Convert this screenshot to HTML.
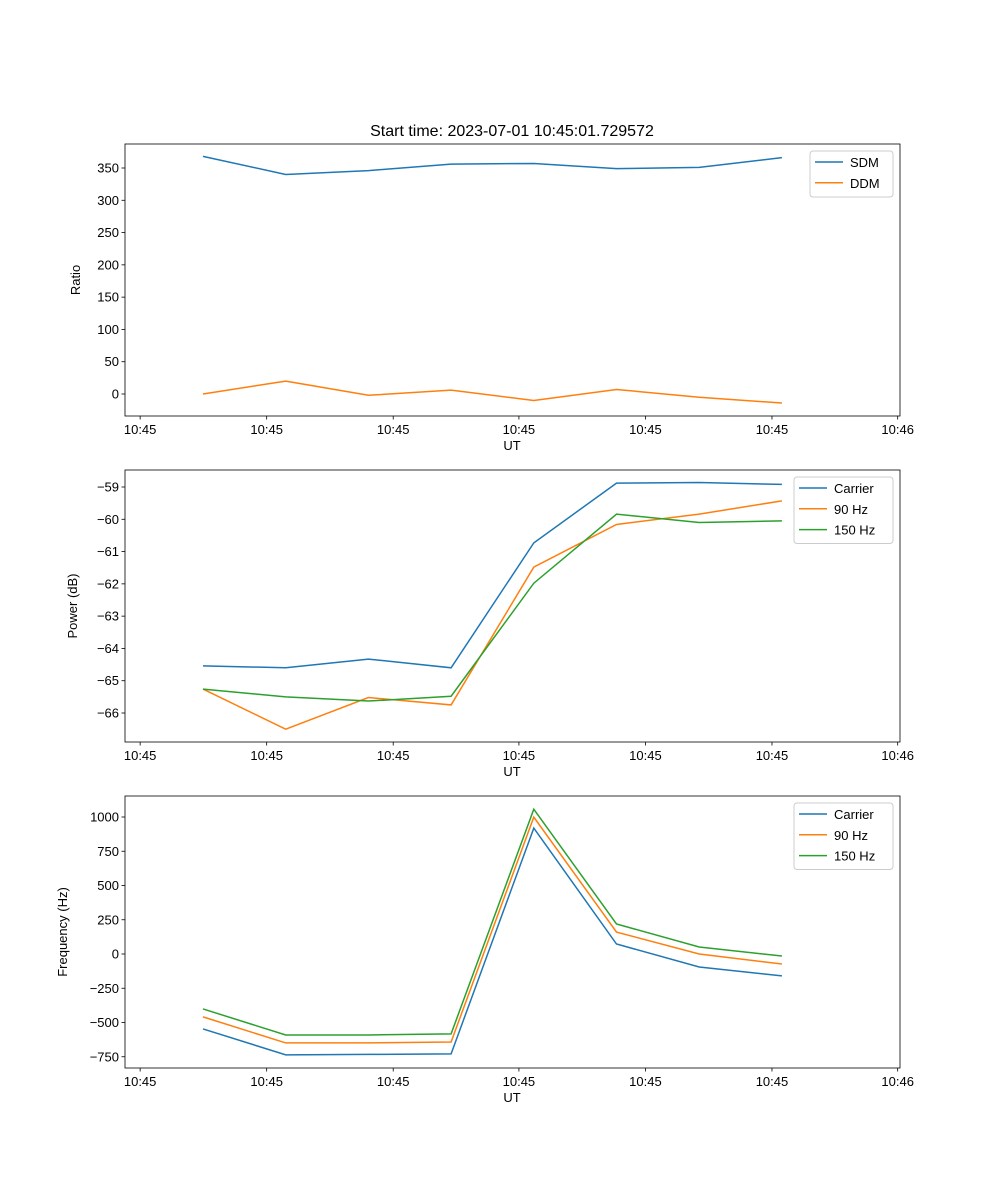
<!DOCTYPE html>
<html><head><meta charset="utf-8"><style>
body{margin:0;background:#fff}
svg{display:block;font-family:"Liberation Sans","DejaVu Sans",sans-serif}
</style></head><body>
<svg id="fig" width="1000" height="1200" viewBox="0 0 1000 1200"></svg>
<script>
const timeIdx=[0,1,2,3,4,5,6,7];
const xTickIdx=[-0.76,0.77,2.3,3.82,5.35,6.88,8.4];
const xTickLabels=["10:45","10:45","10:45","10:45","10:45","10:45","10:46"];
const sdm=[368,340,346,356,357,349,351,366];
const ddm=[0,20,-2,6,-10,7,-5,-14];
const pCarrier=[-64.54,-64.6,-64.33,-64.6,-60.73,-58.88,-58.86,-58.92];
const p90=[-65.26,-66.5,-65.52,-65.75,-61.48,-60.16,-59.84,-59.43];
const p150=[-65.26,-65.5,-65.63,-65.48,-61.98,-59.84,-60.1,-60.05];
const fCarrier=[-547,-736,-733,-729,919,73,-95,-160];
const f90=[-459,-649,-649,-642,999,160,0,-73];
const f150=[-401,-591,-591,-583,1057,219,51,-15];
const ticks1=[0,50,100,150,200,250,300,350];
const ticks2=[-66,-65,-64,-63,-62,-61,-60,-59];
const ticks3=[-750,-500,-250,0,250,500,750,1000];
const C=["#1f77b4","#ff7f0e","#2ca02c"];
const NS="http://www.w3.org/2000/svg";
const svg=document.getElementById('fig');
function el(tag,attrs,parent){const e=document.createElementNS(NS,tag);for(const k in attrs)e.setAttribute(k,attrs[k]);(parent||svg).appendChild(e);return e;}
const L=125,R=900;
const xs=i=>203+i*82.7;
function panel(name,top,bot,v0,y0,v1,y1,ticks,tlabels,ylabel,series,names,legX,legW){
  const g=el('g',{});
  
  
  const ys=v=>y0+(v-v0)*(y1-y0)/(v1-v0);
  const clip=el('clipPath',{id:'c'+name},g);el('rect',{x:L,y:top,width:R-L,height:bot-top},clip);
  series.forEach((s,k)=>{
    const p=el('polyline',{points:s.map((v,i)=>xs(timeIdx[i])+','+ys(v)).join(' '),fill:'none',stroke:C[k],'stroke-width':1.5,'clip-path':'url(#c'+name+')'},g);
    
    
  });
  el('rect',{x:L,y:top,width:R-L,height:bot-top,fill:'none',stroke:'#000','stroke-width':0.8},g);
  xTickIdx.forEach((t,i)=>{const x=xs(t);el('line',{x1:x,x2:x,y1:bot,y2:bot+3.5,stroke:'#000','stroke-width':0.8},g);
    const tx=el('text',{x:x,y:bot+18,'font-size':13,'text-anchor':'middle'},g);tx.textContent=xTickLabels[i];
    });
  ticks.forEach((t,i)=>{const y=ys(t);el('line',{x1:L-3.5,x2:L,y1:y,y2:y,stroke:'#000','stroke-width':0.8},g);
    const tx=el('text',{x:L-6,y:y+4.5,'font-size':13,'text-anchor':'end'},g);tx.textContent=tlabels[i];
    });
  const xl=el('text',{x:512,y:bot+34,'font-size':13,'text-anchor':'middle'},g);xl.textContent='UT';
  
  const yl=el('text',{x:0,y:0,'font-size':13,'text-anchor':'middle',transform:'translate('+(ylabel.x)+','+((top+bot)/2)+') rotate(-90)'},g);yl.textContent=ylabel.t;
  
  const lg=el('g',{},g);
  el('rect',{x:legX,y:top+7,width:legW,height:20.5*names.length+5,fill:'#fff',stroke:'#ccc',rx:3},lg);
  names.forEach((n,k)=>{const y=top+18+k*20.8;el('line',{x1:legX+5,x2:legX+33,y1:y,y2:y,stroke:C[k],'stroke-width':1.5},lg);
    const t=el('text',{x:legX+40,y:y+5,'font-size':13},lg);t.textContent=n;
    });
}
const title=el('text',{x:512,y:136,'font-size':16,'text-anchor':'middle'});title.textContent='Start time: 2023-07-01 10:45:01.729572';

panel('ratio',144,416,0,394,350,168,ticks1,ticks1.map(String),{x:80,t:'Ratio'},[sdm,ddm],['SDM','DDM'],810,83);
panel('power',470,742,-66,713,-59,487,ticks2,ticks2.map(v=>'\u2212'+Math.abs(v)),{x:77,t:'Power (dB)'},[pCarrier,p90,p150],['Carrier','90 Hz','150 Hz'],794,99);
panel('frequency',796,1068,0,954,1000,817,ticks3,ticks3.map(v=>v<0?'\u2212'+Math.abs(v):String(v)),{x:67,t:'Frequency (Hz)'},[fCarrier,f90,f150],['Carrier','90 Hz','150 Hz'],794,99);
</script>
</body></html>
